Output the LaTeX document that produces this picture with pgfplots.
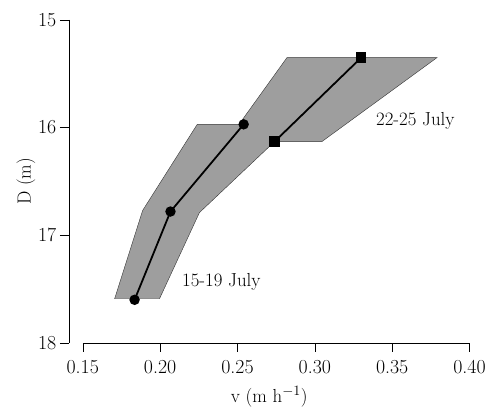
\documentclass[border=0pt]{standalone}
\usepackage{fontspec}
\usepackage{pgfplots}
\pgfplotsset{compat=1.18}

\begin{document}
\begin{tikzpicture}
\begin{axis}[
  scale only axis,
  width=402bp, height=324bp,
  xmin=0.141, xmax=0.40,
  ymin=15, ymax=18,
  y dir=reverse,
  axis lines=left,
  axis line style={draw=none,-},
  tick align=outside,
  major tick length=9bp,
  tick style={black, line width=0.5pt},
  xtick={0.15,0.20,0.25,0.30,0.35,0.40},
  ytick={15,16,17,18},
  ticklabel style={font=\fontsize{20}{23}\selectfont},
  xticklabel style={yshift=-5bp, /pgf/number format/.cd, fixed, fixed zerofill, precision=2, assume math mode=true},
  yticklabel style={/pgf/number format/assume math mode=true},
  label style={font=\fontsize{19}{22}\selectfont},
  xlabel={v (m h$^{-1}$)},
  ylabel={D (m)},
  xlabel style={yshift=-6bp},
  ylabel style={yshift=-4bp},
  clip=false,
]
% outer frame of the page
\path (axis cs:0.0965,14.815) rectangle (axis cs:0.4116,18.694);
% axis lines
\draw[black, line width=0.6pt] (axis cs:0.15,18) -- (axis cs:0.40,18);
\draw[black, line width=0.6pt] (axis cs:0.141,15) -- (axis cs:0.141,18);
% shaded bands (union outline)
\addplot[fill=black!38, draw=black!80, line width=0.4pt] coordinates {
  (0.1706,17.59) (0.1887,16.77) (0.224,15.97) (0.251,15.97)
  (0.282,15.35) (0.379,15.35) (0.3046,16.13) (0.274,16.13)
  (0.2254,16.79) (0.1996,17.59)
} -- cycle;
% 15-19 July
\addplot[black, line width=1.8pt, mark=*, mark size=4.3pt, mark options={solid, fill=black}] coordinates {
  (0.1835,17.60) (0.2067,16.78) (0.254,15.97)
};
% 22-25 July
\addplot[black, line width=1.8pt, mark=square*, mark size=4.3pt, mark options={solid, fill=black}] coordinates {
  (0.274,16.13) (0.330,15.35)
};
\node[font=\fontsize{19}{22}\selectfont] at (axis cs:0.365,15.935) {22-25 July};
\node[font=\fontsize{19}{22}\selectfont] at (axis cs:0.2396,17.43) {15-19 July};
\end{axis}
\end{tikzpicture}
\end{document}
